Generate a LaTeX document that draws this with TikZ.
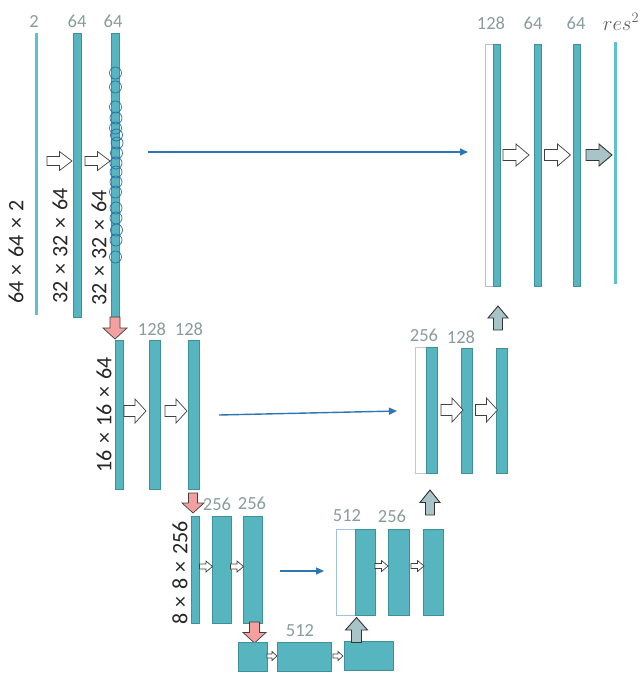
\documentclass[tikz,border=0pt]{standalone}
\usepackage{fontspec}
\setmainfont{Carlito}
\usetikzlibrary{arrows.meta}
\definecolor{tealf}{HTML}{57B5BF}
\definecolor{teald}{HTML}{3F9199}
\definecolor{tline}{HTML}{5CC3CB}
\definecolor{lblgray}{HTML}{8A9B9B}
\definecolor{bluearr}{HTML}{2E75B6}
\definecolor{circblue}{HTML}{2F6FA8}
\definecolor{redf}{HTML}{F5A0A0}
\definecolor{grayf}{HTML}{A8C4C8}
\definecolor{dkgray}{HTML}{404040}
\newcommand{\tms}{\hspace{6.5pt}×\hspace{6.5pt}}
\tikzset{
  bar/.style={draw=teald, fill=tealf, line width=0.6pt, inner sep=0pt, rectangle},
  thinbar/.style={fill=tline, draw=none, inner sep=0pt, rectangle},
  wbar/.style={draw=#1, fill=white, line width=0.8pt, inner sep=0pt, rectangle},
  ring/.style={draw=circblue, line width=0.7pt, circle, minimum size=12pt, inner sep=0pt},
  lbl/.style={text=lblgray, font=\fontsize{18.5}{18.5}\selectfont, inner sep=0pt},
  dim/.style={text=black!85, font=\fontsize{22}{22}\selectfont, rotate=90, inner sep=0pt},
  skip/.style={draw=bluearr, line width=1.4pt, -{Triangle[length=8pt,width=7pt]}},
  harr/.style={draw=dkgray, fill=white, line width=0.7pt, line join=miter},
  rarr/.style={draw=dkgray, fill=redf, line width=0.7pt, line join=miter},
  garr/.style={draw=black!80, fill=grayf, line width=0.9pt, line join=miter},
  pics/blk/.style n args={4}{code={
    \path[#4] ({-#1/2},{-#3/2}) -- (0,{-#3/2}) -- (0,{-#2/2}) -- ({#1/2},0)
      -- (0,{#2/2}) -- (0,{#3/2}) -- ({-#1/2},{#3/2}) -- cycle;
  }}
}
\begin{document}
\begin{tikzpicture}[x=1pt,y=-1pt]
\useasboundingbox (0,0) rectangle (643,677);

% ---- level 1 (encoder) ----
\node[thinbar, minimum width=2.5pt, minimum height=282pt] (in) at (36.5,174) {};
\node[bar, minimum width=8pt, minimum height=284pt] (e11) at (77,175) {};
\node[bar, minimum width=7.5pt, minimum height=285pt] (e12) at (115.5,175.5) {};
\foreach \yy/\xx [count=\i] in {73/115.5,87/115.5,107/115.5,118/116,128/115.5,135/116.5,143/117,153/116.5,163/116,172/116,182/116,192/115.5,208/116,218/116,230/116.5,240/116,257/115.5}
  \node[ring] (c\i) at (\xx,\yy) {};
\node[lbl] (l2) at (34,21) {2};
\node[lbl] (l64a) at (77,21) {64};
\node[lbl] (l64b) at (113,21) {64};
\node[dim] (d1) at (16,252) {64\tms{}64\tms{}2};
\node[dim] (d2) at (60,246) {32\tms{}32\tms{}64};
\node[dim] (d3) at (99,248) {32\tms{}32\tms{}64};
\pic at (59.5,161) {blk={25}{19}{9}{harr}};
\pic at (97.5,161) {blk={25}{19}{9}{harr}};

% ---- level 1 (decoder) ----
\node[wbar=black!25, minimum width=8pt, minimum height=242pt] (dw1) at (489,165) {};
\node[bar, minimum width=7pt, minimum height=242pt] (d11) at (496.5,165) {};
\node[bar, minimum width=7pt, minimum height=242pt] (d12) at (537.5,165) {};
\node[bar, minimum width=7pt, minimum height=242pt] (d13) at (576.5,165) {};
\node[thinbar, minimum width=2.5pt, minimum height=242pt] (out) at (615.5,163) {};
\node[lbl] (l128t) at (491,23) {128};
\node[lbl] (l64c) at (533,23) {64};
\node[lbl] (l64d) at (576,23) {64};
\node[text=black!62, inner sep=0pt, font=\fontsize{22}{22}\selectfont] (lres) at (621,22) {$res^2$};
\pic at (516,155) {blk={26}{22}{11}{harr}};
\pic at (557.5,155) {blk={26}{22}{11}{harr}};
\pic at (599,155) {blk={26}{22}{11}{garr}};

\coordinate (s1) at (148,152);
\coordinate (t1) at (468,152);
\draw[skip] (s1) -- (t1);

% ---- level 2 ----
\pic[rotate=-90] at (115,328) {blk={22}{24}{10}{rarr}};
\node[bar, minimum width=8pt, minimum height=149pt] (e21) at (119,414.5) {};
\node[bar, minimum width=11pt, minimum height=149pt] (e22) at (154.5,414.5) {};
\node[bar, minimum width=11pt, minimum height=149pt] (e23) at (193.5,414.5) {};
\node[lbl] (l128a) at (152,329) {128};
\node[lbl] (l128b) at (189,329) {128};
\node[dim] (d4) at (104,415) {16\tms{}16\tms{}64};
\pic at (135,411) {blk={22}{24}{11}{harr}};
\pic at (176,411) {blk={22}{24}{11}{harr}};

\node[wbar=black!22, minimum width=11pt, minimum height=126pt] (dw2) at (420.5,410) {};
\node[bar, minimum width=11pt, minimum height=126pt] (d21) at (431.5,410) {};
\node[bar, minimum width=11pt, minimum height=125pt] (d22) at (466.5,410.5) {};
\node[bar, minimum width=11pt, minimum height=125pt] (d23) at (502,410.5) {};
\node[lbl] (l256m) at (424,335) {256};
\node[lbl] (l128m) at (461,337) {128};
\pic at (452,410) {blk={22}{24}{11}{harr}};
\pic at (486.5,410) {blk={22}{24}{11}{harr}};
\pic[rotate=90] at (498,318) {blk={24}{20}{9}{garr}};

\coordinate (s2) at (219,415);
\coordinate (t2) at (397,411);
\draw[skip] (s2) -- (t2);

% ---- level 3 ----
\pic[rotate=-90] at (193,503) {blk={20}{22}{9}{rarr}};
\node[bar, minimum width=8pt, minimum height=107pt] (e31) at (195,569.5) {};
\node[bar, minimum width=19pt, minimum height=107pt] (e32) at (221.5,569.5) {};
\node[bar, minimum width=19pt, minimum height=107pt] (e33) at (252.5,569.5) {};
\node[lbl] (l256a) at (217,504) {256};
\node[lbl] (l256b) at (252,503) {256};
\node[dim] (d5) at (180,573) {8\tms{}8\tms{}256};
\pic at (206,566.5) {blk={13}{11}{5}{harr}};
\pic at (237,566.5) {blk={13}{11}{5}{harr}};

\node[wbar=bluearr!45, minimum width=19pt, minimum height=86pt] (dw3) at (345.5,572) {};
\node[bar, minimum width=20pt, minimum height=86pt] (d31) at (365,572) {};
\node[bar, minimum width=21pt, minimum height=86pt] (d32) at (399,572) {};
\node[bar, minimum width=20pt, minimum height=86pt] (d33) at (433,572) {};
\node[lbl] (l512a) at (347,516) {512};
\node[lbl] (l256c) at (392,516) {256};
\pic at (381.5,566) {blk={13}{11}{5}{harr}};
\pic at (417.5,566) {blk={13}{11}{5}{harr}};
\pic[rotate=90] at (430,502.5) {blk={25}{20}{9}{garr}};

\coordinate (s3) at (280,571);
\coordinate (t3) at (324,571);
\draw[skip] (s3) -- (t3);

% ---- bottleneck ----
\pic[rotate=-90] at (254.5,632.5) {blk={21}{23}{10}{rarr}};
\node[bar, minimum width=29pt, minimum height=29pt] (b1) at (252.5,656.5) {};
\node[bar, minimum width=54pt, minimum height=29pt] (b2) at (304,656.5) {};
\node[bar, minimum width=49pt, minimum height=29pt] (b3) at (368.5,655.5) {};
\node[lbl] (l512b) at (300,631) {512};
\pic at (272,656) {blk={10}{9}{4}{harr}};
\pic at (338,656) {blk={10}{9}{4}{harr}};
\pic[rotate=90] at (356.5,630) {blk={25}{22}{10}{garr}};
\end{tikzpicture}
\end{document}
